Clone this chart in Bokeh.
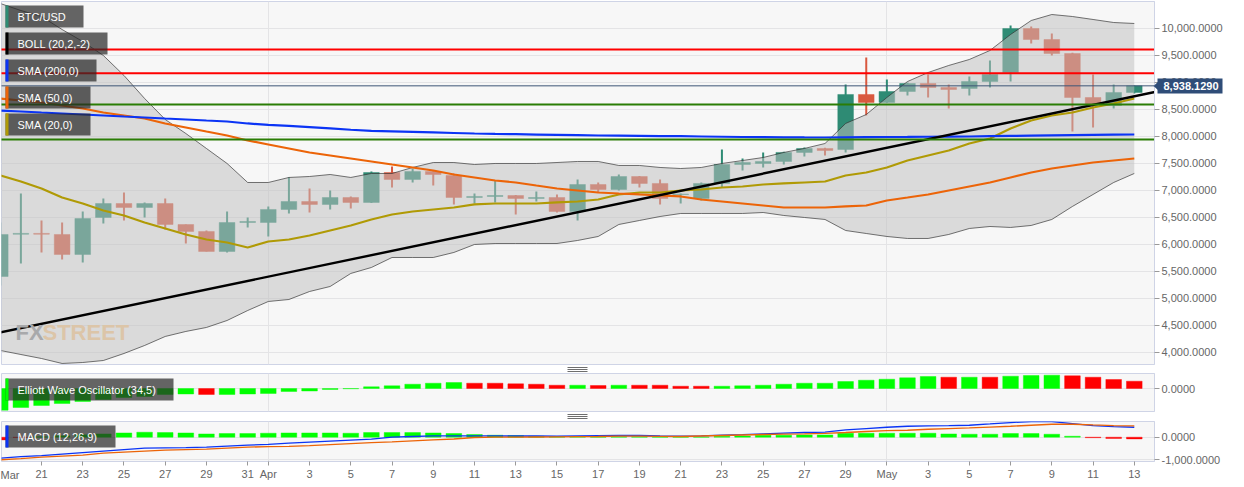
from bokeh.plotting import figure
from bokeh.layouts import column
from bokeh.models import (ColumnDataSource, Range1d, FixedTicker, NumeralTickFormatter,
                          BoxAnnotation, Label)
from bokeh.embed import file_html
from bokeh.resources import INLINE

days = list(range(56))
opens = [5407,6190,6205,6185,5815,6500,6759,6685,6759,6370,6241,5870,6407,6407,6648,6796,6741,6870,6778,7333,7204,7352,7278,6870,6889,6907,6852,6870,6611,7111,7018,7259,7130,6925,6852,7130,7481,7500,7537,7704,7778,7759,8778,8630,8833,8981,8907,8889,9018,9185,10000,9796,9537,8722,8574,8815]
highs = [6407,6944,6444,6407,6611,6852,6963,6778,6852,6370,6259,6611,6500,6704,7241,7037,7000,6889,7352,7444,7407,7370,7315,6944,7185,6915,6981,6926,7204,7148,7296,7270,7204,6944,7148,7759,7593,7704,7715,7796,7790,8963,9463,9055,9000,9148,8963,9111,9407,10055,10037,9907,9550,9148,8963,8945]
lows = [5240,5648,5852,5722,5667,6389,6444,6500,6278,6018,5870,5852,6315,6148,6574,6593,6648,6667,6770,7056,7148,7093,6741,6759,6778,6556,6796,6593,6444,6963,7000,7056,6741,6759,6815,7056,7370,7426,7481,7630,7648,7704,8389,8620,8759,8722,8519,8759,8907,9018,9722,9500,8093,8167,8519,8796]
closes = [6185,6205,6190,5815,6481,6759,6685,6759,6370,6241,5870,6407,6426,6648,6796,6741,6870,6778,7333,7204,7352,7296,6870,6889,6907,6852,6870,6611,7111,7018,7259,7130,6852,6935,7130,7481,7519,7537,7704,7778,7741,8778,8630,8833,8981,8907,8870,9018,9148,10000,9796,9537,8722,8593,8815,8938]

boll_upper = [10463,10333,10222,9981,9759,9500,9130,8704,8315,8055,7778,7500,7148,7148,7241,7259,7296,7241,7315,7315,7426,7518,7518,7481,7500,7500,7500,7518,7537,7537,7463,7463,7426,7407,7426,7500,7555,7611,7704,7778,7870,8241,8407,8722,9018,9185,9315,9426,9593,9889,10148,10259,10222,10167,10111,10093]
boll_lower = [4037,3962,3888,3796,3814,3851,3981,4129,4296,4389,4463,4592,4777,4944,4981,5129,5222,5463,5574,5759,5759,5759,5852,6000,6018,6018,6018,6018,6074,6148,6370,6444,6518,6574,6574,6574,6574,6592,6537,6500,6463,6259,6203,6148,6111,6111,6185,6296,6333,6315,6352,6463,6704,6926,7148,7315]
sma20 = [7278,7166,7037,6870,6759,6630,6537,6407,6296,6185,6092,6037,5944,6055,6092,6166,6259,6352,6463,6555,6611,6648,6685,6741,6759,6759,6759,6778,6796,6833,6926,6963,6963,7000,7018,7055,7074,7111,7130,7148,7166,7278,7333,7426,7555,7648,7741,7870,7963,8148,8296,8389,8444,8537,8611,8704]
sma50 = [8704,8667,8630,8574,8518,8444,8389,8333,8241,8167,8092,8018,7926,7852,7778,7704,7648,7592,7537,7481,7426,7370,7296,7241,7185,7148,7092,7037,7000,6963,6944,6926,6907,6889,6833,6796,6759,6722,6685,6685,6685,6704,6722,6815,6870,6926,7000,7074,7148,7241,7333,7407,7463,7518,7555,7592]
sma200 = [8481,8463,8444,8426,8407,8389,8370,8352,8333,8315,8296,8278,8241,8215,8195,8175,8150,8125,8105,8095,8085,8075,8065,8055,8048,8042,8036,8030,8024,8018,8015,8012,8008,8005,8000,7995,7990,7988,7985,7982,7981,7985,7988,7990,7992,7995,7998,8000,8005,8010,8015,8020,8025,8030,8034,8037]

trend_days = [0, 56]
trend_values = [4370, 8824]
red_levels = [9611, 9172]
green_levels = [8592, 7944]
last_price = 8938.1290

ewo = [-868,-760,-680,-600,-520,-440,-360,-320,-240,-220,-240,-240,-220,-200,-120,-100,-40,-12,68,108,172,212,240,212,212,188,172,132,132,120,132,132,132,92,92,92,108,132,172,212,212,280,332,372,428,480,452,452,452,492,520,532,508,452,360,292]
ewo_rising = [1,1,1,1,1,1,1,1,1,1,0,1,1,1,1,1,1,1,1,1,1,1,1,0,0,0,0,0,1,0,1,0,0,0,0,1,1,1,1,1,1,1,1,1,1,1,0,1,0,1,1,1,0,0,0,0]

macd_hist = [-119,-13,22,66,110,145,189,220,207,189,145,163,163,176,189,189,189,176,207,207,207,189,163,119,88,75,44,31,31,22,22,22,13,13,13,44,57,88,88,101,101,176,176,176,176,176,145,132,132,163,163,132,44,-22,-57,-75]
macd_line = [-924,-858,-814,-748,-682,-616,-550,-484,-471,-462,-440,-396,-352,-321,-264,-220,-176,-132,-88,0,31,57,57,57,57,53,53,44,53,66,75,75,57,44,57,88,114,145,176,207,220,321,383,440,484,497,510,528,585,647,691,691,603,515,471,440]
macd_signal = [-999,-946,-880,-836,-792,-704,-660,-616,-572,-550,-528,-484,-440,-418,-405,-374,-330,-286,-242,-207,-163,-119,-79,-13,0,0,9,13,22,31,44,44,35,31,53,75,97,119,132,145,167,207,251,295,308,352,383,409,449,484,528,572,572,541,515,497]

tick_days = [0,2,4,6,8,10,12,13,15,17,19,21,23,25,27,29,31,33,35,37,39,41,43,45,47,49,51,53,55]
tick_labels = ["","21","23","25","27","29","31","Apr","3","5","7","9","11","13","15","17","19","21","23","25","27","29","May","3","5","7","9","11","13"]
month_days = [13, 43]

legend_main = [("BTC/USD","#2e8b74",78),("BOLL (20,2,-2)","#000000",102),("SMA (200,0)","#0b34f5",91),("SMA (50,0)","#ec6408",85),("SMA (20,0)","#b09a05",85)]

FONT = "Liberation Sans"
TXT = "#666666"
BORDER = "#cfd4e6"
GRID = "#e4e4e6"
TEAL = "#2e8b74"
RED = "#d9583f"
BW = 0.76

x_range = Range1d(0.06, 55.98)


def base(h, top, bottom, ylo, yhi, ticks):
    p = figure(width=1244, height=h, x_range=x_range, y_range=Range1d(ylo, yhi),
               output_backend="svg", toolbar_location=None, y_axis_location="right",
               min_border_left=1, min_border_right=90, min_border_top=top, min_border_bottom=bottom,
               background_fill_color="#f7f7f7", border_fill_color="#ffffff",
               outline_line_color=BORDER, outline_line_width=1)
    p.xgrid.ticker = FixedTicker(ticks=month_days)
    p.xgrid.grid_line_color = GRID
    p.ygrid.grid_line_color = GRID
    y = p.yaxis[0]
    y.ticker = FixedTicker(ticks=ticks)
    y.formatter = NumeralTickFormatter(format="0,0.0000")
    y.axis_line_color = BORDER
    y.major_tick_line_color = "#999999"
    y.major_tick_out = 5
    y.major_tick_in = 0
    y.minor_tick_line_color = None
    y.major_label_standoff = 2
    y.major_label_text_font = FONT
    y.major_label_text_font_size = "11px"
    y.major_label_text_color = TXT
    return p


def rect(p, left, right, top, bottom, colour, alpha=1):
    p.add_layout(BoxAnnotation(left=left, right=right, top=top, bottom=bottom,
                               left_units="canvas", right_units="canvas", top_units="canvas", bottom_units="canvas",
                               fill_color=colour, fill_alpha=alpha, line_color=None))


def tag(p, text, colour, width, top):
    rect(p, 5, 5 + width, top, top + 22, "#272727", 0.71)
    rect(p, 5, 8, top, top + 22, colour)
    p.add_layout(Label(x=17, y=top + 11, x_units="canvas", y_units="canvas", text=text,
                       text_font=FONT, text_font_size="11px", text_color="#ffffff", text_baseline="middle"))


# ---------- price pane ----------
main = base(365, 1, 1, 3777, 10500, list(range(4000, 10001, 500)))
main.xaxis.visible = False

src = ColumnDataSource(dict(day=days, o=opens, h=highs, l=lows, c=closes,
                            col=[TEAL if c >= o else RED for o, c in zip(opens, closes)]))
main.segment("day", "h", "day", "l", source=src, color="col", line_width=2)
main.vbar("day", BW, "o", "c", source=src, fill_color="col", line_color="col", line_alpha=0.45, line_width=1)

band = ColumnDataSource(dict(day=days, up=boll_upper, lo=boll_lower))
main.varea("day", "up", "lo", source=band, fill_color="#bfbfbf", fill_alpha=0.52)
main.line("day", "up", source=band, line_color="#333333", line_width=0.8, line_alpha=0.85)
main.line("day", "lo", source=band, line_color="#333333", line_width=0.8, line_alpha=0.85)

main.add_layout(Label(x=15, y=332, x_units="canvas", y_units="canvas", text="FX", text_font=FONT,
                      text_font_style="bold", text_font_size="22px", text_color="#a8a9ab", text_baseline="middle"))
main.add_layout(Label(x=42, y=332, x_units="canvas", y_units="canvas", text="STREET", text_font=FONT,
                      text_font_style="bold", text_font_size="22px", text_color="#dcc5a8", text_baseline="middle"))

main.line(days, sma20, line_color="#b09a05", line_width=2.2)
main.line(days, sma50, line_color="#ec6408", line_width=2.2)
main.line(days, sma200, line_color="#0b34f5", line_width=2.2)
main.line(trend_days, trend_values, line_color="#000000", line_width=2.4)
for lv in red_levels:
    main.line(trend_days, [lv, lv], line_color="#ff0000", line_width=2)
for lv in green_levels:
    main.line(trend_days, [lv, lv], line_color="#2a7d05", line_width=2)
main.line(trend_days, [last_price, last_price], line_color="#3e5577", line_width=1)

for i, (name, colour, w) in enumerate(legend_main):
    tag(main, name, colour, w, 5 + 27 * i)

# ---------- Elliott Wave Oscillator pane ----------
ewo_p = base(47, 8, 1, -920, 600, [0])
ewo_p.xaxis.visible = False
ewo_p.vbar(days, BW, 0, ewo, fill_color=["#00ff00" if r else "#ff0000" for r in ewo_rising],
           line_color=["#00ff00" if r else "#ff0000" for r in ewo_rising], line_alpha=0.4)
tag(ewo_p, "Elliott Wave Oscillator (34,5)", "#00ff00", 168, 13)

# ---------- MACD pane ----------
macd_p = base(75, 9, 26, -1074, 694, [-1000, 0])
macd_p.vbar(days, BW, 0, macd_hist, fill_color=["#00ff00" if v >= 0 else "#ff0000" for v in macd_hist],
            line_color=["#00ff00" if v >= 0 else "#ff0000" for v in macd_hist], line_alpha=0.4)
macd_p.line(days, macd_line, line_color="#0b34f5", line_width=1.3)
macd_p.line(days, macd_signal, line_color="#ec6408", line_width=1.3)
x = macd_p.xaxis[0]
x.ticker = FixedTicker(ticks=tick_days)
x.major_label_overrides = dict(zip(tick_days, tick_labels))
x.axis_line_color = None
x.major_tick_line_color = "#999999"
x.major_tick_out = 4
x.major_tick_in = 0
x.minor_tick_line_color = None
x.major_label_standoff = 2
x.major_label_text_font = FONT
x.major_label_text_font_size = "11px"
x.major_label_text_color = TXT
tag(macd_p, "MACD (12,26,9)", "#0b34f5", 110, 13)

# ---------- overlay for the marks that sit outside the panes ----------
over = figure(width=1244, height=487, x_range=Range1d(0, 1244), y_range=Range1d(487, 0),
              output_backend="svg", toolbar_location=None,
              min_border_left=0, min_border_right=0, min_border_top=0, min_border_bottom=0,
              x_axis_location=None, y_axis_location=None,
              background_fill_color=None, border_fill_color=None, outline_line_color=None,
              styles={"position": "absolute", "left": "0px", "top": "0px", "pointer-events": "none"})
over.grid.visible = False
grip_rows = (367, 369, 371, 414, 416, 418)
over.segment(x0=[567] * 6, y0=list(grip_rows), x1=[587] * 6, y1=list(grip_rows), line_color="#6e6e6e", line_width=1)
over.patch([1153, 1158, 1158], [85.5, 81, 90], fill_color="#2f4d78", line_color=None)
over.quad(left=[1157], right=[1222], top=[78], bottom=[93], fill_color="#2f4d78", line_color=None)
over.add_layout(Label(x=1163, y=85.5, text=f"{last_price:,.4f}",
                      text_font=FONT, text_font_style="bold", text_font_size="11px", text_color="#ffffff",
                      text_baseline="middle"))
over.add_layout(Label(x=0, y=474, text="Mar", text_font=FONT,
                      text_font_size="11px", text_color=TXT, text_baseline="middle"))

page = column(main, ewo_p, macd_p, spacing=0,
              styles={"position": "absolute", "left": "0px", "top": "0px"})
open("out.html", "w").write(file_html([page, over], INLINE))
